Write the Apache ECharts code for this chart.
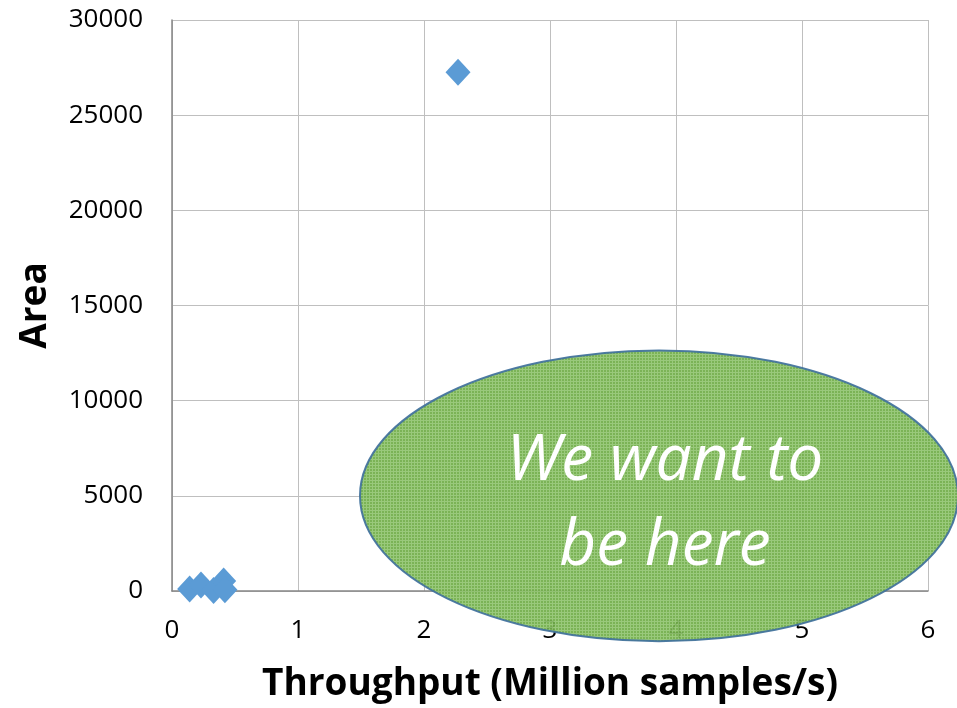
<!DOCTYPE html>
<html>
<head>
<meta charset="utf-8">
<script src="https://cdn.jsdelivr.net/npm/echarts@6/dist/echarts.min.js"></script>
<style>
  html, body { margin: 0; padding: 0; background: #fff; }
  #chart { width: 957px; height: 708px; }
</style>
</head>
<body>
<div id="chart"></div>
<script>
// Measured designs: throughput (million samples/s) vs. area
const throughput = [0.14, 0.23, 0.33, 0.41, 0.42, 2.27];
const area = [100, 320, 30, 530, 60, 27260];

// Axis ranges
const xMin = 0, xMax = 6, xStep = 1;
const yMin = 0, yMax = 30000, yStep = 5000;

// Target region (data units) and its caption
const targetCenter = [3.865, 5000];
const targetRadius = [2.373, 7640];
const targetText = 'We want to\nbe here';

const points = throughput.map((x, i) => [x, area[i]]);

const chart = echarts.init(document.getElementById('chart'), null, { renderer: 'canvas' });

// Fine green lattice fill for the target region
function makePattern() {
  const c = document.createElement('canvas');
  c.width = 3; c.height = 3;
  const g = c.getContext('2d');
  g.fillStyle = '#72ae4a';
  g.fillRect(0, 0, 3, 3);
  g.fillStyle = '#92c571';
  g.fillRect(0, 0, 3, 1);
  g.fillRect(0, 0, 1, 3);
  return c;
}

const font = '"Open Sans", "Noto Sans", sans-serif';

chart.setOption({
  animation: false,
  backgroundColor: '#ffffff',
  grid: { left: 172, right: 29, top: 20, bottom: 115, containLabel: false },
  xAxis: {
    type: 'value',
    min: xMin, max: xMax, interval: xStep,
    name: 'Throughput (Million samples/s)',
    nameLocation: 'middle',
    nameGap: 75,
    nameTextStyle: { fontFamily: font, fontWeight: 'bold', fontSize: 37, color: '#000' },
    axisLine: { show: true, onZero: false, lineStyle: { color: '#868686', width: 1.5 } },
    axisTick: { show: false },
    axisLabel: { fontFamily: font, fontSize: 26, color: '#000', margin: 27 },
    splitLine: { show: true, lineStyle: { color: '#bfbfbf', width: 1 } }
  },
  yAxis: {
    type: 'value',
    min: yMin, max: yMax, interval: yStep,
    name: 'Area',
    nameLocation: 'middle',
    nameGap: 118,
    nameRotate: 90,
    nameTextStyle: { fontFamily: font, fontWeight: 'bold', fontSize: 37, color: '#000' },
    axisLine: { show: true, onZero: false, lineStyle: { color: '#868686', width: 1.5 } },
    axisTick: { show: false },
    axisLabel: {
      fontFamily: font, fontSize: 26, color: '#000', margin: 29,
      padding: [4, 0, 0, 0],
      formatter: (v) => String(v)
    },
    splitLine: { show: true, lineStyle: { color: '#bfbfbf', width: 1 } }
  },
  series: [{
    type: 'scatter',
    data: points,
    symbol: 'diamond',
    symbolSize: [25, 27],
    itemStyle: { color: '#5b9bd5', opacity: 1 },
    z: 3
  }]
});

// Overlay the target ellipse, positioned through the chart's own scales
function drawTarget() {
  const c = chart.convertToPixel({ gridIndex: 0 }, targetCenter);
  const e = chart.convertToPixel({ gridIndex: 0 },
    [targetCenter[0] + targetRadius[0], targetCenter[1] + targetRadius[1]]);
  const rx = e[0] - c[0];
  const ry = c[1] - e[1];
  chart.setOption({
    graphic: [
      {
        id: 'target',
        type: 'ellipse',
        z: 100,
        shape: { cx: c[0], cy: c[1], rx: rx, ry: ry },
        style: {
          fill: { image: makePattern(), repeat: 'repeat' },
          stroke: '#41719c',
          lineWidth: 2,
          opacity: 0.93
        }
      },
      {
        id: 'targetText',
        type: 'text',
        z: 101,
        x: c[0] + 6,
        y: c[1] + 8,
        style: {
          text: targetText,
          fill: '#ffffff',
          font: 'italic 400 64px ' + font,
          align: 'center',
          verticalAlign: 'middle',
          lineHeight: 85
        }
      }
    ]
  });
}
drawTarget();
</script>
</body>
</html>
